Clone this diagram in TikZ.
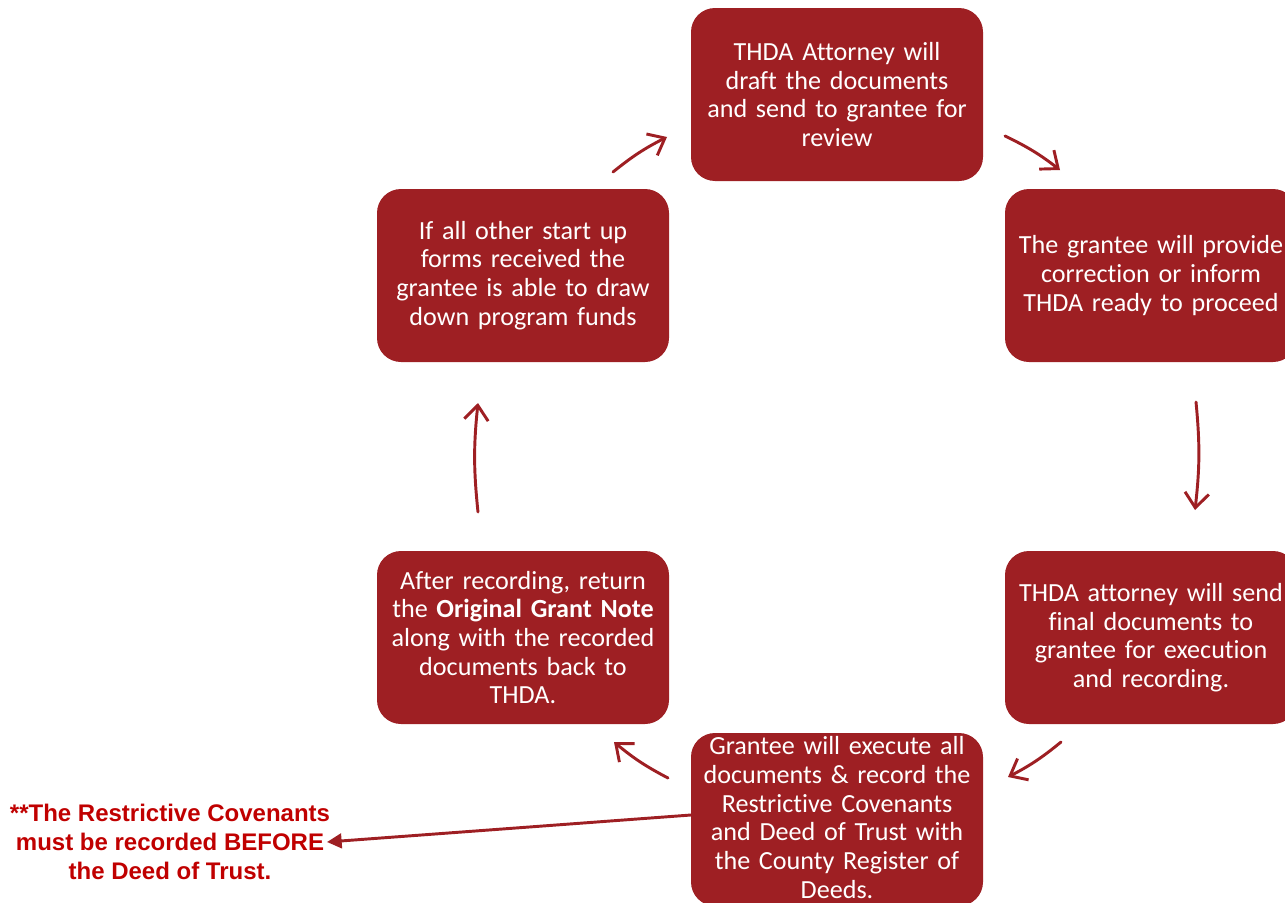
\documentclass[tikz,border=0pt]{standalone}
\usepackage{fontspec}
\setmainfont{Carlito}[Ligatures=NoCommon]
\newfontfamily\notefont{Liberation Sans}
\usetikzlibrary{arrows.meta}
\definecolor{thdared}{HTML}{9E1F23}
\definecolor{notered}{HTML}{C00000}
\tikzset{
  stepbox/.style={fill=thdared, rounded corners=18pt, minimum width=219pt, minimum height=129.75pt,
    text width=215pt, align=center, text=white, inner sep=0pt, font=\fontsize{19.6}{21.5}\selectfont},
  cycarrow/.style={draw=thdared, line width=2.2pt, line cap=round,
    -{Straight Barb[length=11pt,width=18pt,line width=2.2pt]}},
}
\begin{document}
\begin{tikzpicture}[x=0.75pt,y=-0.75pt]
\useasboundingbox (0,0) rectangle (1285,903);
\clip (0,0) rectangle (1285,903);
% the six steps
\node[stepbox] (draft) at (837,94.5) {THDA Attorney will\\draft the documents\\and send to grantee for\\review};
\node[stepbox] (review) at (1151,275.5) {The grantee will provide\\correction or inform\\THDA ready to proceed};
\node[stepbox] (final) at (1151,637.5) {THDA attorney will send\\final documents to\\grantee for execution\\and recording.};
\node[stepbox] (execute) at (837,819.5) {Grantee will execute all\\documents \& record the\\Restrictive Covenants\\and Deed of Trust with\\the County Register of\\Deeds.\vspace*{3pt}};
\node[stepbox] (return) at (523,637.5) {After recording, return\\the \textbf{Original Grant Note}\\along with the recorded\\documents back to\\THDA.};
\node[stepbox] (funds) at (523,275.5) {If all other start up\\forms received the\\grantee is able to draw\\down program funds};
% note
\node[text=notered, align=center, font=\notefont\bfseries\fontsize{18}{22}\selectfont] (note) at (170,842)
  {**The Restrictive Covenants\\must be recorded BEFORE\\the Deed of Trust.};
% arrow ends
\coordinate (c1s) at (613,172);  \coordinate (c1e) at (667,137);
\coordinate (c2s) at (1005,136); \coordinate (c2e) at (1060,170);
\coordinate (c3s) at (1196,402); \coordinate (c3e) at (1195,510);
\coordinate (c4s) at (1061,742); \coordinate (c4e) at (1008,777);
\coordinate (c5s) at (668,778);  \coordinate (c5e) at (614,742);
\coordinate (c6s) at (478,512);  \coordinate (c6e) at (478,403);
\coordinate (ns) at (691,815);   \coordinate (ne) at (327,842);
% cycle arrows
\draw[cycarrow] (c1s) to[bend left=6] (c1e);
\draw[cycarrow] (c2s) to[bend left=6] (c2e);
\draw[cycarrow] (c3s) to[bend left=6] (c3e);
\draw[cycarrow] (c4s) to[bend left=6] (c4e);
\draw[cycarrow] (c5s) to[bend left=6] (c5e);
\draw[cycarrow] (c6s) to[bend left=6] (c6e);
\draw[thdared, line width=2.2pt, -{Triangle[length=11pt,width=11pt]}] (ns) -- (ne);
\end{tikzpicture}
\end{document}
